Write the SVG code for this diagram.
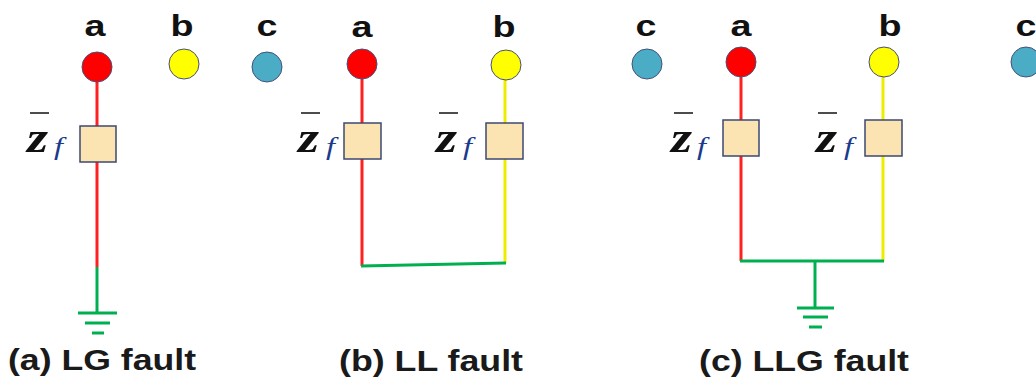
<svg xmlns="http://www.w3.org/2000/svg" width="1036" height="381" viewBox="0 0 1036 381">
<style>
.lbl{font-family:"Liberation Sans",Arial,sans-serif;font-weight:bold;font-size:29px;fill:#111;text-anchor:middle}
.cap{font-family:"Liberation Sans",Arial,sans-serif;font-weight:bold;font-size:29px;fill:#1a1a1a}
.z{font-family:"Liberation Serif","Times New Roman",serif;font-style:italic;font-weight:bold;font-size:44px;fill:#111}
.f{font-family:"Liberation Serif","Times New Roman",serif;font-style:italic;font-size:25px;fill:#1a3a8c}
.bar{stroke:#111;stroke-width:1.5}
.pa{fill:#ff0000;stroke:#46507a;stroke-width:1}
.pb{fill:#ffff00;stroke:#46507a;stroke-width:1}
.pc{fill:#4bacc6;stroke:#46507a;stroke-width:1}
.box{fill:#fbe4b2;stroke:#3d4872;stroke-width:1.5}
.r{stroke:#ff2020;stroke-width:3;fill:none}
.y{stroke:#eded00;stroke-width:3;fill:none}
.g{stroke:#00b050;stroke-width:3;fill:none}
</style>
<rect width="1036" height="381" fill="#fff"/>
<g id="connectors">
<line class="r" x1="97" y1="81" x2="97" y2="267"/>
<line class="g" x1="97" y1="267" x2="97" y2="313"/>
<line class="r" x1="362" y1="79" x2="362" y2="266"/>
<line class="y" x1="505" y1="80" x2="505" y2="263"/>
<line class="g" x1="361" y1="266" x2="506" y2="263"/>
<line class="r" x1="741" y1="77" x2="741" y2="261"/>
<line class="y" x1="883" y1="77" x2="883" y2="261"/>
<line class="g" x1="740" y1="261" x2="884" y2="261"/>
<line class="g" x1="815" y1="261" x2="815" y2="308"/>
</g>
<g id="ground-a" class="g">
<line x1="78" y1="313" x2="117" y2="313"/>
<line x1="85" y1="323" x2="110" y2="323"/>
<line x1="92" y1="333" x2="104" y2="333"/>
</g>
<g id="ground-c" class="g">
<line x1="797" y1="308" x2="834" y2="308"/>
<line x1="803" y1="317" x2="828" y2="317"/>
<line x1="809" y1="327" x2="822" y2="327"/>
</g>
<g id="a-phase-a"><circle class="pa" cx="97" cy="67" r="15"/><text class="lbl" x="95" y="36" textLength="21" lengthAdjust="spacingAndGlyphs">a</text></g>
<g id="a-phase-b"><circle class="pb" cx="184" cy="64" r="15"/><text class="lbl" x="182" y="36" textLength="23" lengthAdjust="spacingAndGlyphs">b</text></g>
<g id="a-phase-c"><circle class="pc" cx="267" cy="67" r="15"/><text class="lbl" x="267" y="36" textLength="21" lengthAdjust="spacingAndGlyphs">c</text></g>
<g id="b-phase-a"><circle class="pa" cx="362" cy="64" r="15"/><text class="lbl" x="362" y="37" textLength="21" lengthAdjust="spacingAndGlyphs">a</text></g>
<g id="b-phase-b"><circle class="pb" cx="506" cy="65" r="15"/><text class="lbl" x="504" y="37" textLength="23" lengthAdjust="spacingAndGlyphs">b</text></g>
<g id="c-phase-c"><circle class="pc" cx="647" cy="64" r="15"/><text class="lbl" x="646" y="36" textLength="21" lengthAdjust="spacingAndGlyphs">c</text></g>
<g id="c-phase-a"><circle class="pa" cx="741" cy="62" r="15"/><text class="lbl" x="741" y="36" textLength="21" lengthAdjust="spacingAndGlyphs">a</text></g>
<g id="c-phase-b"><circle class="pb" cx="884" cy="62" r="15"/><text class="lbl" x="890" y="36" textLength="23" lengthAdjust="spacingAndGlyphs">b</text></g>
<g id="c-phase-c2"><circle class="pc" cx="1026" cy="62" r="15"/><text class="lbl" x="1026" y="36" textLength="21" lengthAdjust="spacingAndGlyphs">c</text></g>
<g id="a-zf"><rect class="box" x="80" y="126" width="36" height="36"/><line class="bar" x1="30" y1="113" x2="49" y2="113"/><text class="z" x="27" y="152" textLength="21" lengthAdjust="spacingAndGlyphs">z</text><text class="f" x="54" y="155" textLength="9" lengthAdjust="spacingAndGlyphs">f</text></g>
<g id="b-zf-a"><rect class="box" x="344" y="123" width="37" height="36"/><line class="bar" x1="301" y1="113" x2="320" y2="113"/><text class="z" x="298" y="152" textLength="21" lengthAdjust="spacingAndGlyphs">z</text><text class="f" x="326" y="155" textLength="9" lengthAdjust="spacingAndGlyphs">f</text></g>
<g id="b-zf-b"><rect class="box" x="486" y="123" width="37" height="36"/><line class="bar" x1="439" y1="113" x2="458" y2="113"/><text class="z" x="436" y="152" textLength="21" lengthAdjust="spacingAndGlyphs">z</text><text class="f" x="463" y="155" textLength="9" lengthAdjust="spacingAndGlyphs">f</text></g>
<g id="c-zf-a"><rect class="box" x="723" y="120" width="36" height="36"/><line class="bar" x1="674" y1="113" x2="693" y2="113"/><text class="z" x="671" y="152" textLength="21" lengthAdjust="spacingAndGlyphs">z</text><text class="f" x="697" y="155" textLength="9" lengthAdjust="spacingAndGlyphs">f</text></g>
<g id="c-zf-b"><rect class="box" x="865" y="120" width="37" height="36"/><line class="bar" x1="818" y1="113" x2="837" y2="113"/><text class="z" x="816" y="152" textLength="21" lengthAdjust="spacingAndGlyphs">z</text><text class="f" x="844" y="155" textLength="9" lengthAdjust="spacingAndGlyphs">f</text></g>
<g id="captions">
<text class="cap" x="8" y="370" textLength="188" lengthAdjust="spacingAndGlyphs">(a) LG fault</text>
<text class="cap" x="339" y="371" textLength="184" lengthAdjust="spacingAndGlyphs">(b) LL fault</text>
<text class="cap" x="699" y="371" textLength="210" lengthAdjust="spacingAndGlyphs">(c) LLG fault</text>
</g>
</svg>
